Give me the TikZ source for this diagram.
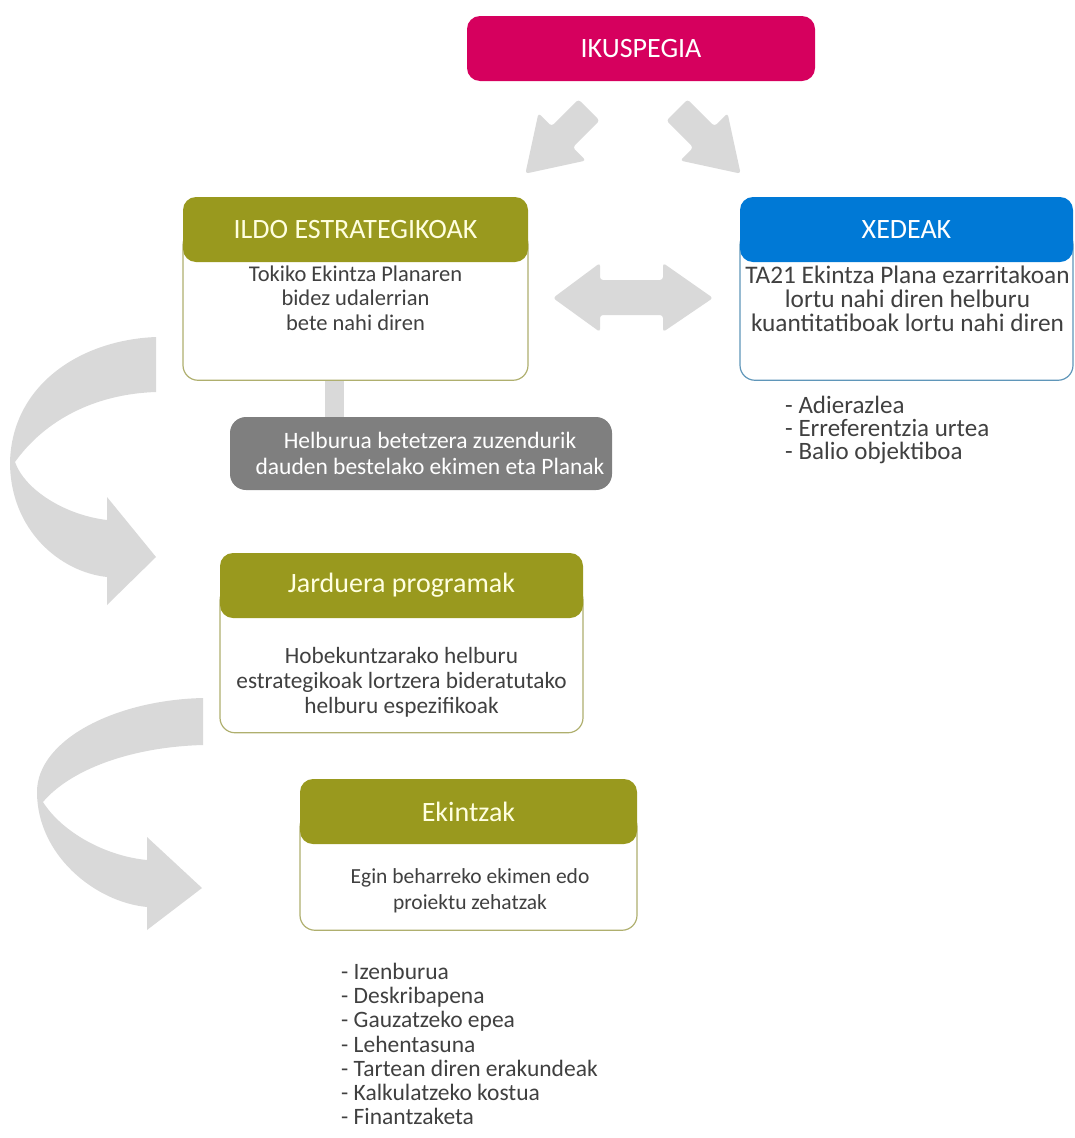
\documentclass[tikz,border=0pt]{standalone}
\usepackage{fontspec}
\setmainfont{Carlito}
\definecolor{ikus}{RGB}{214,0,94}
\definecolor{oliba}{RGB}{153,153,30}
\definecolor{urdin}{RGB}{0,121,214}
\definecolor{gris}{RGB}{127,127,127}
\definecolor{argi}{RGB}{217,217,217}
\definecolor{testu}{RGB}{64,64,64}
\definecolor{krema}{RGB}{255,255,224}
\definecolor{ertzO}{RGB}{175,175,110}
\definecolor{ertzU}{RGB}{95,150,185}
\newcommand\fsz[2]{\fontsize{#1}{#2}\selectfont}
\tikzset{
  goiburu/.style={rounded corners=13pt,inner sep=0pt,minimum height=65pt,text=krema,font=\fsz{28}{32}},
  gorputz/.style={draw=#1,fill=white,rounded corners=15pt,line width=1.2pt,inner sep=0pt},
  testua/.style={align=center,text=testu,inner sep=0pt},
  zerrenda/.style={align=left,text=testu,inner sep=0pt,anchor=west,font=\fsz{23.5}{24.2}},
  gezi/.pic={\fill[argi,rounded corners=3pt] (0,-15) -- (38,-15) -- (38,-33.5) -- (90,0) -- (38,33.5) -- (38,15) -- (0,15) -- cycle;}
}
\begin{document}
\begin{tikzpicture}[x=1pt,y=-1pt,line join=round]
\useasboundingbox (0,0) rectangle (1075,1138);
% gezi kurbatuak
\fill[argi] (156,337) .. controls (80,340) and (12,385) .. (10,462) .. controls (10,530) and (60,572) .. (107,577) -- (107,605) -- (156,557) -- (107,497) -- (107,520) .. controls (65,515) and (25,490) .. (15,462) .. controls (45,420) and (95,394) .. (156,392) -- cycle;
\fill[argi] (203,698) .. controls (115,700) and (37,740) .. (37,792) .. controls (37,855) and (95,902) .. (147,907) -- (147,930) -- (202,888) -- (147,837) -- (147,860) .. controls (105,856) and (62,832) .. (43,802) .. controls (70,770) and (130,747) .. (203,745) -- cycle;
% goiko geziak
\pic[rotate=-135] at (589,110) {gezi};
\pic[rotate=-45] at (677,110) {gezi};
\fill[argi,rounded corners=3pt] (553,298) -- (600,263) -- (600,280) -- (663,280) -- (663,263) -- (713,298) -- (663,332) -- (663,315) -- (600,315) -- (600,332) -- cycle;

\node[goiburu,fill=ikus,text=white,minimum width=348pt] (ikus) at (641,48.5) {IKUSPEGIA};

% ildo estrategikoak
\node[gorputz=ertzO,minimum width=345pt,minimum height=150.5pt] (ildoB) at (355.5,305) {};
\node[gris,fill=gris,minimum width=382pt,minimum height=73pt,rounded corners=16pt,inner sep=0pt] (helb) at (421,453.5) {};
\node[text=white,font=\fsz{23.5}{26},align=center,inner sep=0pt] (helbT) at ([xshift=9pt]helb.center) {Helburua betetzera zuzendurik\\dauden bestelako ekimen eta Planak};
\fill[argi] ([xshift=-30.5pt]ildoB.south) rectangle ([xshift=-11.5pt]ildoB.south |- helb.north);
\node[goiburu,fill=oliba,minimum width=345pt] (ildo) at (355.5,229.5) {ILDO ESTRATEGIKOAK};
\node[testua,font=\fsz{22.5}{24.5}] (ildoT) at (355.5,298) {Tokiko Ekintza Planaren\\bidez udalerrian\\bete nahi diren};

% xedeak
\node[gorputz=ertzU,minimum width=333pt,minimum height=150.5pt] (xedB) at (906.5,305) {};
\node[goiburu,fill=urdin,text=white,minimum width=333pt] (xed) at (906.5,229.5) {XEDEAK};
\node[testua,font=\fsz{25.3}{24.3}] (xedT) at (907.5,299) {TA21 Ekintza Plana ezarritakoan\\lortu nahi diren helburu\\kuantitatiboak lortu nahi diren};
\node[zerrenda,font=\fsz{25}{22.8}] (xedZ) at (785,430) {- Adierazlea\\- Erreferentzia urtea\\- Balio objektiboa};

% jarduera programak
\node[gorputz=ertzO,minimum width=363pt,minimum height=147.5pt] (jardB) at (401.5,659) {};
\node[goiburu,fill=oliba,minimum width=363pt] (jard) at (401.5,585.5) {Jarduera programak};
\node[testua,font=\fsz{23.3}{25}] (jardT) at (401.5,682) {Hobekuntzarako helburu\\estrategikoak lortzera bideratutako\\helburu espezifikoak};

% ekintzak
\node[gorputz=ertzO,minimum width=337pt,minimum height=118.5pt] (ekinB) at (468.5,871) {};
\node[goiburu,fill=oliba,minimum width=337pt] (ekin) at (468.5,811.5) {Ekintzak};
\node[testua,font=\fsz{21.5}{26}] (ekinT) at (470,891) {Egin beharreko ekimen edo\\proiektu zehatzak};
\node[zerrenda] (ekinZ) at (341,1044) {- Izenburua\\- Deskribapena\\- Gauzatzeko epea\\- Lehentasuna\\- Tartean diren erakundeak\\- Kalkulatzeko kostua\\- Finantzaketa};
\end{tikzpicture}
\end{document}
